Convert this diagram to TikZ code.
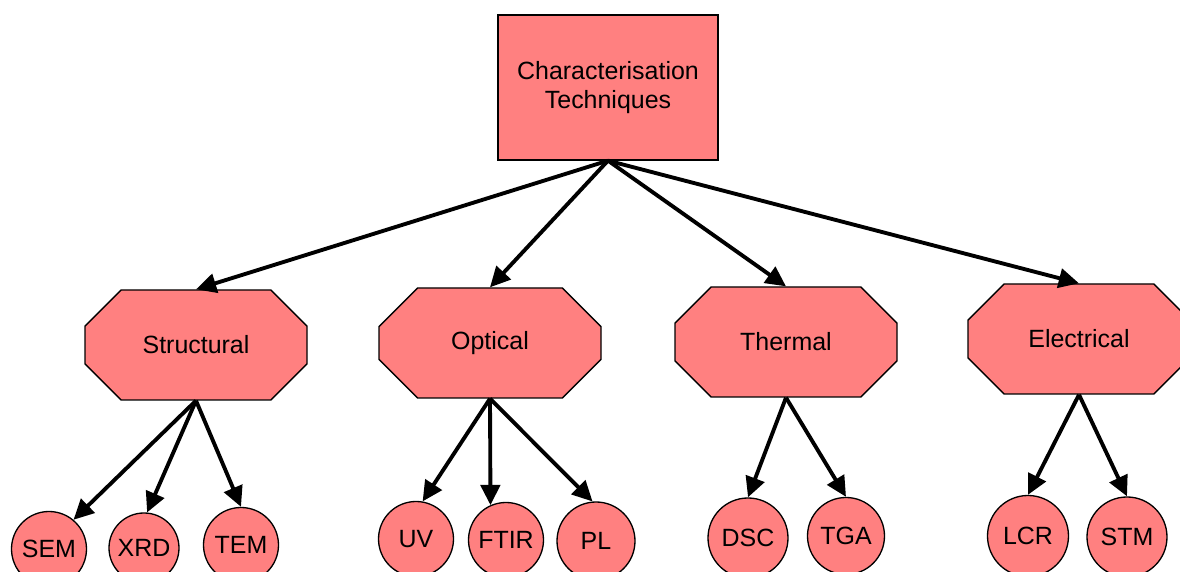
\documentclass[tikz,border=0pt]{standalone}
\usepackage{fontspec}
\setmainfont{Liberation Sans}
\usetikzlibrary{arrows.meta,shapes.misc,positioning}
\definecolor{nodered}{RGB}{255,128,128}
\tikzset{every picture/.style={line width=0.75pt}}

\begin{document}
\begin{tikzpicture}[
    font=\fontsize{14.2}{17}\selectfont,
    rootbox/.style={draw, fill=nodered, align=center, minimum width=4.4cm, minimum height=2.9cm},
    group/.style={draw, fill=nodered, chamfered rectangle, chamfered rectangle xsep=0.74cm, chamfered rectangle ysep=0.54cm, minimum width=4.44cm, minimum height=2.2cm, inner sep=0pt},
    leaf/.style={draw, fill=nodered, circle, inner sep=0pt, minimum size=1.5cm},
    link/.style={line width=2.2pt, -{Triangle[length=11.5pt,width=11pt]}}
]
    \clip (0,0) rectangle (23.6,11.44);
    % root
    \node[rootbox] (root) at (12.16,9.69) {Characterisation\\Techniques};
    % technique groups
    \node[group] (struct) at (3.92,4.54) {Structural};
    \node[group] (optic) at (9.80,4.58) {Optical};
    \node[group] (therm) at (15.72,4.60) {Thermal};
    \node[group] (elec) at (21.58,4.66) {Electrical};
    % methods
    \node[leaf] (sem) at (0.98,0.46) {SEM};
    \node[leaf, minimum size=1.4cm] (xrd) at (2.88,0.48) {XRD};
    \node[leaf] (tem) at (4.82,0.54) {TEM};
    \node[leaf] (uv) at (8.32,0.66) {UV};
    \node[leaf] (ftir) at (10.12,0.64) {FTIR};
    \node[leaf, minimum size=1.56cm] (pl) at (11.92,0.62) {PL};
    \node[leaf, minimum size=1.6cm] (dsc) at (14.96,0.68) {DSC};
    \node[leaf, minimum size=1.54cm] (tga) at (16.92,0.72) {TGA};
    \node[leaf, minimum size=1.62cm] (lcr) at (20.56,0.72) {LCR};
    \node[leaf, minimum size=1.6cm] (stm) at (22.54,0.70) {STM};
    \draw[link] (root.south) -- (struct.north);
    \draw[link] (root.south) -- (optic.north);
    \draw[link] (root.south) -- (therm.north);
    \draw[link] (root.south) -- (elec.north);
    \draw[link] (struct.south) -- (sem.50);
    \draw[link] (struct.south) -- (xrd.85);
    \draw[link] (struct.south) -- (tem.north);
    \draw[link] (optic.south) -- (uv.80);
    \draw[link] (optic.south) -- (ftir.114);
    \draw[link] (optic.south) -- (pl.95);
    \draw[link] (therm.south) -- (dsc.north);
    \draw[link] (therm.south) -- (tga.north);
    \draw[link] (elec.south) -- (lcr.north);
    \draw[link] (elec.south) -- (stm.north);
\end{tikzpicture}
\end{document}
